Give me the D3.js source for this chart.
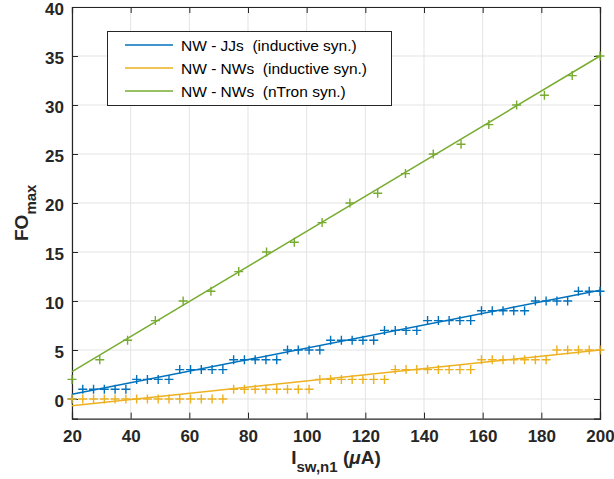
<!DOCTYPE html>
<html><head><meta charset="utf-8">
<script src="https://cdn.jsdelivr.net/npm/d3@7"></script>
<style>body{margin:0;background:#fff}svg{display:block}text{font-family:"Liberation Sans",Arial,sans-serif}</style>
</head><body><svg id="c" width="614" height="479"></svg>
<script>
// x values of the dense sweeps (blue & orange)
const xDense = [20.0,23.67,27.35,31.02,34.69,38.37,42.04,45.71,49.39,53.06,56.73,60.41,64.08,67.76,71.43,75.10,78.78,82.45,86.12,89.80,93.47,97.14,100.82,104.49,108.16,111.84,115.51,119.18,122.86,126.53,130.20,133.88,137.55,141.22,144.90,148.57,152.24,155.92,159.59,163.27,166.94,170.61,174.29,177.96,181.63,185.31,188.98,192.65,196.33,200.0];
const yJJs = [0,1,1,1,1,1,2,2,2,2,3,3,3,3,3,4,4,4,4,4,5,5,5,5,6,6,6,6,6,7,7,7,7,8,8,8,8,8,9,9,9,9,9,10,10,10,10,11,11,11];
const yNWind = [0,0,0,0,0,0,0,0,0,0,0,0,0,0,0,1,1,1,1,1,1,1,1,2,2,2,2,2,2,2,3,3,3,3,3,3,3,3,4,4,4,4,4,4,4,5,5,5,5,5];
// nTron sweep
const xNtron = [20,29.47,38.95,48.42,57.89,67.37,76.84,86.32,95.79,105.26,114.74,124.21,133.68,143.16,152.63,162.11,171.58,181.05,190.53,200];
const yNtron = [2,4,6,8,10,11,13,15,16,18,20,21,23,25,26,28,30,31,33,35];
// fitted lines (end points)
const fitJJs = [[20,0.48],[200,11.1]];
const fitNWind = [[20,-0.68],[200,5.0]];
const fitNtron = [[20,2.8],[200,35]];
const seriesNames = ["NW - JJs  (inductive syn.)","NW - NWs  (inductive syn.)","NW - NWs  (nTron syn.)"];
const colors = ["#0072BD","#EDB120","#77AC30"];
const xTicks = [20,40,60,80,100,120,140,160,180,200];
const yTicks = [0,5,10,15,20,25,30,35,40];

const svg = d3.select("#c");
const L=72,R=600,T=7,B=418.6;
const x = d3.scaleLinear().domain([20,200]).range([L,R]);
const y = d3.scaleLinear().domain([-2,40]).range([B,T]);

// grid
const g = svg.append("g");
g.selectAll("line.vg").data(xTicks).join("line").attr("x1",d=>x(d)).attr("x2",d=>x(d)).attr("y1",T).attr("y2",B).attr("stroke","#e3e3e3").attr("stroke-width",1);
g.selectAll("line.hg").data(yTicks).join("line").attr("y1",d=>y(d)).attr("y2",d=>y(d)).attr("x1",L).attr("x2",R).attr("stroke","#e3e3e3").attr("stroke-width",1);

// axes
const ax = svg.append("g").attr("font-weight","bold");
ax.append("g").attr("transform",`translate(0,${B})`).call(d3.axisBottom(x).tickValues(xTicks).tickSize(-6).tickPadding(11).tickFormat(d3.format("d")));
ax.append("g").attr("transform",`translate(0,${T})`).call(d3.axisTop(x).tickValues(xTicks).tickSize(-6).tickFormat(""));
const yAx = ax.append("g").attr("transform",`translate(${L},0)`).call(d3.axisLeft(y).tickValues(yTicks).tickSize(-6).tickPadding(8).tickFormat(d3.format("d")));
yAx.selectAll(".tick text").attr("dy","0.42em");
ax.append("g").attr("transform",`translate(${R},0)`).call(d3.axisRight(y).tickValues(yTicks).tickSize(-6).tickFormat(""));
ax.selectAll(".domain").attr("stroke","#262626").attr("stroke-width",1.2);
ax.selectAll(".tick line").attr("stroke","#262626").attr("stroke-width",1);
ax.selectAll(".tick text").attr("font-size",17).attr("fill","#262626").attr("font-family","'Liberation Sans',Arial,sans-serif");

// series
const datasets = [
  {xs:xDense, ys:yJJs, fit:fitJJs},
  {xs:xDense, ys:yNWind, fit:fitNWind},
  {xs:xNtron, ys:yNtron, fit:fitNtron}
];
const line = d3.line().x(d=>x(d[0])).y(d=>y(d[1]));
const plot = svg.append("g");
datasets.forEach((ds,i)=>{
  const c = colors[i];
  plot.append("path").attr("d",line(ds.fit)).attr("fill","none").attr("stroke",c).attr("stroke-width",1.5);
  const pts = ds.xs.map((v,j)=>[v,ds.ys[j]]);
  const m = 4.5;
  plot.append("g").selectAll("path").data(pts).join("path")
    .attr("d",d=>`M${x(d[0])-m},${y(d[1])}H${x(d[0])+m}M${x(d[0])},${y(d[1])-m}V${y(d[1])+m}`)
    .attr("stroke",c).attr("stroke-width",1.4).attr("fill","none");
});

// labels
const xl = svg.append("text").attr("x",(L+R)/2).attr("y",464).attr("text-anchor","middle").attr("font-size",19).attr("font-weight","bold").attr("fill","#262626");
xl.append("tspan").text("I");
xl.append("tspan").attr("dy",8).attr("font-size",15).text("sw,n1");
xl.append("tspan").attr("dy",-8).text(" (");
xl.append("tspan").attr("font-style","italic").text("\u03bc");
xl.append("tspan").text("A)");

const yl = svg.append("text").attr("transform",`translate(28,${(T+B)/2}) rotate(-90)`).attr("text-anchor","middle").attr("font-size",19).attr("font-weight","bold").attr("fill","#262626");
yl.append("tspan").text("FO");
yl.append("tspan").attr("dy",8).attr("font-size",15).text("max");

// legend
const lg = svg.append("g");
lg.append("rect").attr("x",107.5).attr("y",31.5).attr("width",284).attr("height",74).attr("fill","#fff").attr("stroke","#262626").attr("stroke-width",1);
seriesNames.forEach((n,i)=>{
  const yy = 45 + i*23;
  lg.append("line").attr("x1",125).attr("x2",173).attr("y1",yy).attr("y2",yy).attr("stroke",colors[i]).attr("stroke-width",1.5);
  lg.append("text").attr("x",181).attr("y",yy+5.5).attr("font-size",15.5).attr("fill","#000").style("white-space","pre").text(n);
});
</script></body></html>
